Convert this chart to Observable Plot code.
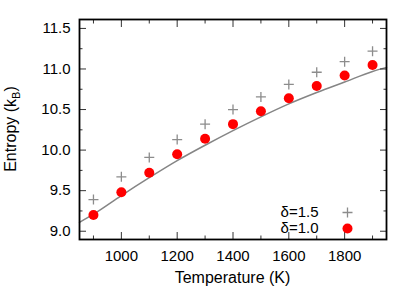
<!DOCTYPE html>
<html><head><meta charset="utf-8">
<script src="https://cdn.jsdelivr.net/npm/d3@7"></script>
<script src="https://cdn.jsdelivr.net/npm/@observablehq/plot@0.6"></script>
<style>
body{margin:0;background:#fff;}
#chart{width:415px;height:291px;}
</style>
</head><body><div id="chart"></div>
<script>
const temps = [900, 1000, 1100, 1200, 1300, 1400, 1500, 1600, 1700, 1800, 1900];
const entropyDelta15 = [9.39, 9.67, 9.91, 10.13, 10.32, 10.50, 10.655, 10.81, 10.96, 11.09, 11.22];
const entropyDelta10 = [9.20, 9.48, 9.72, 9.95, 10.14, 10.32, 10.48, 10.64, 10.79, 10.92, 11.05];
const fitTemps = [850, 900, 1000, 1100, 1200, 1300, 1400, 1500, 1600, 1700, 1800, 1900, 1950];
const fitEntropy = [9.11, 9.21, 9.44, 9.66, 9.87, 10.06, 10.24, 10.41, 10.57, 10.71, 10.84, 10.97, 11.02];
const xTicks = [1000, 1200, 1400, 1600, 1800];
const xMinorTicks = [900, 1100, 1300, 1500, 1700, 1900];
const yTicks = [9.0, 9.5, 10.0, 10.5, 11.0, 11.5];
const yMinorTicks = [9.25, 9.75, 10.25, 10.75, 11.25];
const legendLabels = ["δ=1.5", "δ=1.0"];
const xLabel = "Temperature (K)";
const yLabel = "Entropy (k";
const yLabelSub = "B";

const plusData = temps.map((t, i) => ({t, s: entropyDelta15[i]}));
const dotData = temps.map((t, i) => ({t, s: entropyDelta10[i]}));
const fitData = fitTemps.map((t, i) => ({t, s: fitEntropy[i]}));

const plusSymbol = {
  draw(ctx, size) {
    const r = Math.sqrt(size / Math.PI);
    ctx.moveTo(-r, 0); ctx.lineTo(r, 0);
    ctx.moveTo(0, -r); ctx.lineTo(0, r);
  }
};

const gray = "#858585";
const plusGray = "#8c8c8c";
const tickColor = "#333";
const font = 15;

const plot = Plot.plot({
  width: 415,
  height: 291,
  marginLeft: 79,
  marginRight: 29,
  marginTop: 19,
  marginBottom: 52,
  style: {fontFamily: "'Liberation Sans', Arial, sans-serif", fontSize: font + "px", color: "black", background: "white"},
  x: {domain: [850, 1950]},
  y: {domain: [8.898, 11.61]},
  marks: [
    Plot.line(fitData, {x: "t", y: "s", stroke: gray, strokeWidth: 1.5, curve: "monotone-x"}),
    Plot.dot(plusData, {x: "t", y: "s", symbol: plusSymbol, r: 5, stroke: plusGray, fill: "none", strokeWidth: 1.3}),
    Plot.dot(dotData, {x: "t", y: "s", r: 5, fill: "#ff0000", stroke: "none"}),
    // tick labels
    Plot.axisX(xTicks, {anchor: "bottom", tickSize: 0, tickPadding: 11, tickFormat: d => String(d), fontSize: font, label: null}),
    Plot.axisY(yTicks, {anchor: "left", tickSize: 0, tickPadding: 9, tickFormat: d3.format(".1f"), fontSize: font, label: null}),
    // inward major ticks, mirrored
    Plot.axisX(xTicks, {anchor: "bottom", tickSize: -7, fill: "none", stroke: tickColor, label: null}),
    Plot.axisX(xTicks, {anchor: "top", tickSize: -7, fill: "none", stroke: tickColor, label: null}),
    Plot.axisX(xMinorTicks, {anchor: "bottom", tickSize: -3.5, fill: "none", stroke: tickColor, label: null}),
    Plot.axisX(xMinorTicks, {anchor: "top", tickSize: -3.5, fill: "none", stroke: tickColor, label: null}),
    Plot.axisY(yTicks, {anchor: "left", tickSize: -7, fill: "none", stroke: tickColor, label: null}),
    Plot.axisY(yTicks, {anchor: "right", tickSize: -7, fill: "none", stroke: tickColor, label: null}),
    Plot.axisY(yMinorTicks, {anchor: "left", tickSize: -3.5, fill: "none", stroke: tickColor, label: null}),
    Plot.axisY(yMinorTicks, {anchor: "right", tickSize: -3.5, fill: "none", stroke: tickColor, label: null}),
    Plot.frame({stroke: "black", strokeWidth: 1.8}),
    // legend
    Plot.text([legendLabels[0]], {frameAnchor: "bottom-right", text: d => d, textAnchor: "end", lineAnchor: "middle", dx: -68, dy: -27, fontSize: font, fill: "black"}),
    Plot.text([legendLabels[1]], {frameAnchor: "bottom-right", text: d => d, textAnchor: "end", lineAnchor: "middle", dx: -68, dy: -11, fontSize: font, fill: "black"}),
    Plot.dot([legendLabels[0]], {frameAnchor: "bottom-right", dx: -39, dy: -27, symbol: plusSymbol, r: 5, stroke: plusGray, fill: "none", strokeWidth: 1.3}),
    Plot.dot([legendLabels[1]], {frameAnchor: "bottom-right", dx: -39, dy: -11, r: 5, fill: "#ff0000", stroke: "none"})
  ]
});

document.getElementById("chart").appendChild(plot);

const svg = d3.select(plot);
svg.append("text")
  .attr("x", 232.5).attr("y", 283)
  .attr("text-anchor", "middle")
  .attr("font-size", 16).attr("fill", "black")
  .text(xLabel);
const yl = svg.append("text")
  .attr("transform", "translate(15.5,129) rotate(-90)")
  .attr("text-anchor", "middle")
  .attr("font-size", 16).attr("fill", "black");
yl.append("tspan").text(yLabel);
yl.append("tspan").attr("font-size", 11).attr("dy", 4).text(yLabelSub);
yl.append("tspan").attr("dy", -4).text(")");
</script>
</body></html>
